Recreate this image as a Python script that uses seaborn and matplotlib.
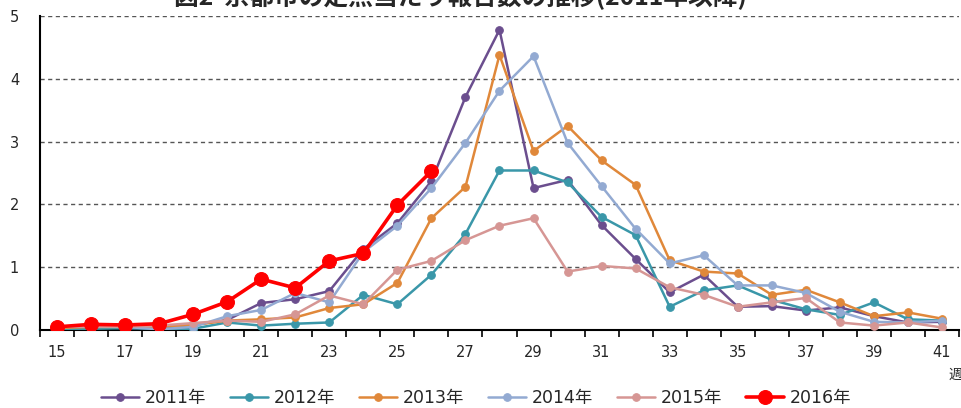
import numpy as np
import pandas as pd
import matplotlib
matplotlib.use("Agg")
import matplotlib.pyplot as plt
import seaborn as sns
from matplotlib.ticker import FixedLocator

weeks = list(range(15, 42))
y2011 = [0.05, 0.05, 0.03, 0.03, 0.08, 0.16, 0.43, 0.49, 0.62, 1.29, 1.70, 2.37, 3.71, 4.78,
         2.26, 2.39, 1.67, 1.13, 0.60, 0.88, 0.37, 0.38, 0.31, 0.36, 0.22, 0.12, 0.13]
y2012 = [0.02, 0.02, 0.03, 0.02, 0.02, 0.12, 0.07, 0.10, 0.12, 0.56, 0.41, 0.88, 1.53, 2.54,
         2.54, 2.35, 1.80, 1.51, 0.37, 0.63, 0.71, 0.48, 0.33, 0.24, 0.44, 0.17, 0.15]
y2013 = [0.03, 0.05, 0.05, 0.05, 0.08, 0.15, 0.17, 0.20, 0.35, 0.41, 0.75, 1.78, 2.28, 4.38,
         2.85, 3.25, 2.70, 2.31, 1.11, 0.93, 0.90, 0.56, 0.64, 0.44, 0.22, 0.28, 0.18]
y2014 = [0.05, 0.07, 0.05, 0.01, 0.05, 0.22, 0.32, 0.59, 0.44, 1.24, 1.66, 2.26, 2.98, 3.81,
         4.36, 2.98, 2.29, 1.61, 1.06, 1.19, 0.71, 0.71, 0.59, 0.29, 0.13, 0.12, 0.15]
y2015 = [0.05, 0.05, 0.05, 0.07, 0.11, 0.15, 0.13, 0.25, 0.55, 0.41, 0.96, 1.10, 1.43, 1.66,
         1.78, 0.93, 1.02, 0.98, 0.68, 0.56, 0.37, 0.44, 0.51, 0.12, 0.07, 0.12, 0.04]
weeks2016 = list(range(15, 27))
y2016 = [0.05, 0.09, 0.08, 0.10, 0.25, 0.45, 0.81, 0.67, 1.10, 1.22, 1.99, 2.53]

years = ["2011年", "2012年", "2013年", "2014年", "2015年", "2016年"]
colors = ["#6B4E8E", "#3A97A9", "#E0883A", "#93AAD2", "#D69694", "#FF0000"]
title = "図2  京都市の定点当たり報告数の推移(2011年以降)"
xticklabels = [str(w) for w in range(15, 42, 2)]
yticks = [0, 1, 2, 3, 4, 5]

rows = []
for yr, vals, wk in zip(years,
                        [y2011, y2012, y2013, y2014, y2015, y2016],
                        [weeks] * 5 + [weeks2016]):
    for w, v in zip(wk, vals):
        rows.append({"week": w, "value": v, "year": yr})
df = pd.DataFrame(rows)

sns.set_style("white")
plt.rcParams["font.family"] = ["DejaVu Sans", "Noto Sans CJK JP"]

fig = plt.figure(figsize=(9.62, 4.08), dpi=100)
ax = fig.add_axes([40 / 962, 1 - 330 / 408, 919 / 962, 314 / 408])

for yr, col in zip(years, colors):
    sub = df[df["year"] == yr]
    big = yr == "2016年"
    sns.lineplot(data=sub, x="week", y="value", ax=ax, color=col,
                 marker="o", markersize=10 if big else 5.5,
                 markeredgecolor=col, linewidth=2.6 if big else 1.8,
                 label=yr, zorder=5 if big else 3, estimator=None, sort=False)

ax.set_xlim(14.5, 41.5)
ax.set_ylim(0, 5)
ax.set_xticks(list(range(15, 42, 2)))
ax.set_xticklabels(xticklabels)
ax.xaxis.set_minor_locator(FixedLocator(np.arange(14.5, 41.6, 1)))
ax.tick_params(axis="x", which="major", length=0, pad=11, labelsize=10.5)
ax.tick_params(axis="x", which="minor", length=5, width=1.2, direction="out",
               color="black", bottom=True)
ax.set_yticks(yticks)
ax.tick_params(axis="y", length=0, pad=15, labelsize=10.5)
ax.set_xlabel("")
ax.set_ylabel("")
for yv in yticks[1:]:
    ax.axhline(yv, color="#555555", linestyle=(0, (3, 2.5)), linewidth=1.0, zorder=1)

for s in ["top", "right"]:
    ax.spines[s].set_visible(False)
for s in ["left", "bottom"]:
    ax.spines[s].set_color("black")
    ax.spines[s].set_linewidth(1.5)

ax.get_legend().remove()
handles, labels = ax.get_legend_handles_labels()
fig.legend(handles, labels, loc="center", ncol=6,
           bbox_to_anchor=(476 / 962, 1 - 398 / 408), frameon=False,
           prop={"family": ["DejaVu Sans", "Noto Sans CJK JP"], "size": 12.5},
           handlelength=2.2, handletextpad=0.3, columnspacing=1.4,
           borderaxespad=0)

fig.text(955 / 962, 1 - 375 / 408, "週", ha="center", va="center",
         fontsize=10, family=["Noto Sans CJK JP"])
fig.text(460 / 962, 1 - 5 / 408, title, ha="center", va="baseline",
         fontsize=17.8, fontweight="bold", family=["Noto Sans CJK JP", "DejaVu Sans"])

fig.savefig("out.png", dpi=100)
